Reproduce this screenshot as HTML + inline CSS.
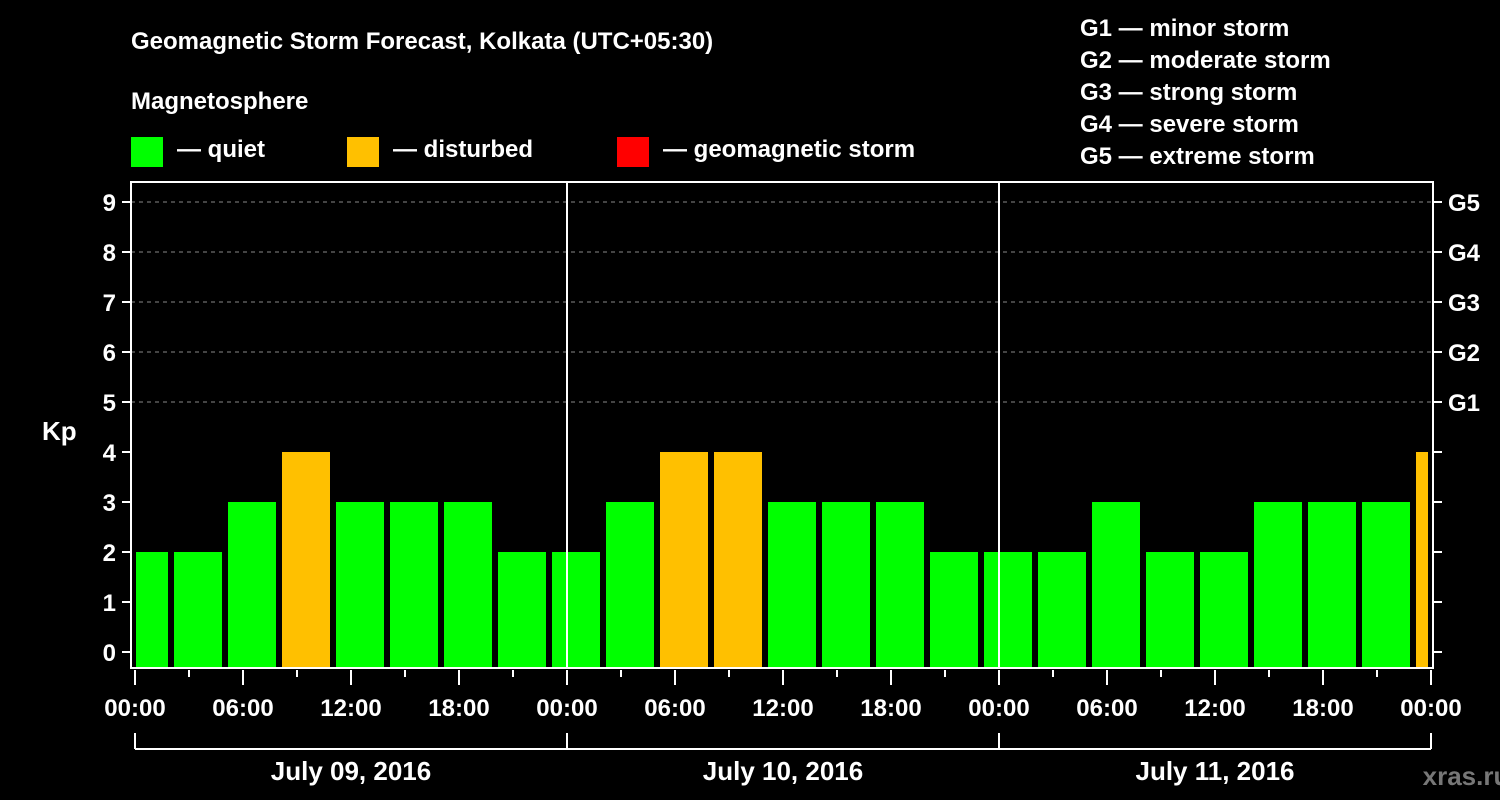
<!DOCTYPE html>
<html><head><meta charset="utf-8"><style>
body{margin:0;background:#000;}
svg{display:block;font-family:"Liberation Sans",Arial,sans-serif;font-weight:bold;}
</style></head><body>
<svg id="c" width="1500" height="800" viewBox="0 0 1500 800">
<rect width="1500" height="800" fill="#000"/>
<text x="131" y="49" fill="#fff" font-size="24">Geomagnetic Storm Forecast, Kolkata (UTC+05:30)</text>
<text x="131" y="109" fill="#fff" font-size="24">Magnetosphere</text>
<g><rect x="131" y="137" width="32" height="30" fill="#00ff00"/><text x="177" y="157" fill="#fff" font-size="24">— quiet</text></g>
<g><rect x="347" y="137" width="32" height="30" fill="#ffc000"/><text x="393" y="157" fill="#fff" font-size="24">— disturbed</text></g>
<g><rect x="617" y="137" width="32" height="30" fill="#ff0000"/><text x="663" y="157" fill="#fff" font-size="24">— geomagnetic storm</text></g>
<g fill="#fff" font-size="24">
<text x="1080" y="36">G1 — minor storm</text>
<text x="1080" y="68">G2 — moderate storm</text>
<text x="1080" y="100">G3 — strong storm</text>
<text x="1080" y="132">G4 — severe storm</text>
<text x="1080" y="164">G5 — extreme storm</text>
</g>
<text x="42" y="440" fill="#fff" font-size="26">Kp</text>
<text x="1466" y="785" fill="#777" font-size="26" text-anchor="middle">xras.ru</text>
<g id="grid"></g><g id="bars"></g><g id="axes"></g>
</svg>
<script>
const kpValues=[2,2,3,4,3,3,3,2,2,3,4,4,3,3,3,2,2,2,3,2,2,3,3,3,4];
const dayLabels=["July 09, 2016","July 10, 2016","July 11, 2016"];
const hourLabels=["00:00","06:00","12:00","18:00"];
const gLabels=["G1","G2","G3","G4","G5"];
const NS="http://www.w3.org/2000/svg";
const L=131,R=1433,T=182,B=668,X0=135,DAY=432;
const y=v=>652-50*v;
const x=h=>X0+h*DAY/24;
function mk(tag,attrs,parent){const e=document.createElementNS(NS,tag);for(const k in attrs)e.setAttribute(k,attrs[k]);document.getElementById(parent).appendChild(e);return e;}
for(let v=5;v<=9;v++){const e=mk('line',{x1:L,x2:R,y1:y(v),y2:y(v),stroke:'#888','stroke-dasharray':'4,4','stroke-width':1},'grid');

}
kpValues.forEach((v,i)=>{
 let s=x(2.1667+3*(i-1)),w=48;let a=Math.max(s,L+5),b=Math.min(s+w,R-5);
 const e=mk('rect',{x:a,y:y(v),width:b-a,height:B-y(v),fill:v>=5?'#ff0000':(v>=4?'#ffc000':'#00ff00')},'bars');
 
 
});
mk('rect',{x:L,y:T,width:R-L,height:B-T,fill:'none',stroke:'#fff','stroke-width':2},'axes');
for(let d=1;d<3;d++)mk('line',{x1:x(24*d),x2:x(24*d),y1:T,y2:B,stroke:'#fff','stroke-width':2},'axes');
for(let v=0;v<=9;v++){
 mk('line',{x1:L-9,x2:L,y1:y(v),y2:y(v),stroke:'#fff','stroke-width':2},'axes');
 mk('line',{x1:R,x2:R+9,y1:y(v),y2:y(v),stroke:'#fff','stroke-width':2},'axes');
 const t=mk('text',{x:116,y:y(v)+9,fill:'#fff','font-size':24,'text-anchor':'end'},'axes');t.textContent=v;
 
 
}
gLabels.forEach((g,i)=>{const t=mk('text',{x:1448,y:y(5+i)+9,fill:'#fff','font-size':24},'axes');t.textContent=g;
 
 });
for(let h=0;h<=72;h+=3){const major=h%6===0;mk('line',{x1:x(h),x2:x(h),y1:B+2,y2:B+(major?17:9),stroke:'#fff','stroke-width':2},'axes');
 if(major&&h%6===0){const lbl=h===72?hourLabels[0]:hourLabels[(h%24)/6];const t=mk('text',{x:x(h),y:716,fill:'#fff','font-size':24,'text-anchor':'middle'},'axes');t.textContent=lbl;
 
 }}
mk('line',{x1:x(0),x2:x(72),y1:749,y2:749,stroke:'#fff','stroke-width':2},'axes');
for(let d=0;d<=3;d++)mk('line',{x1:x(24*d),x2:x(24*d),y1:733,y2:749,stroke:'#fff','stroke-width':2},'axes');
dayLabels.forEach((dl,i)=>{const t=mk('text',{x:x(24*i+12),y:780,fill:'#fff','font-size':26,'text-anchor':'middle'},'axes');t.textContent=dl;
 
 });
</script>
</body></html>
